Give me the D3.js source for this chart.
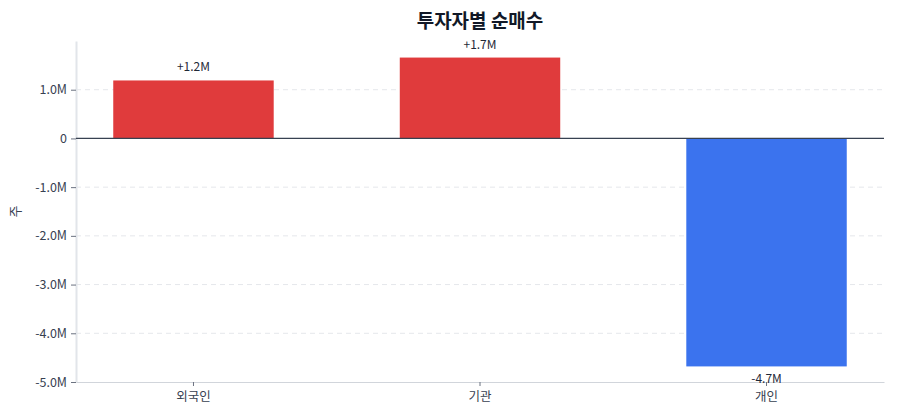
<!DOCTYPE html>
<html>
<head>
<meta charset="utf-8">
<script src="https://cdn.jsdelivr.net/npm/d3@7"></script>
<style>
  body { margin: 0; background: #fff; }
  svg text { font-family: "Noto Sans CJK KR", "Noto Sans", sans-serif; }
</style>
</head>
<body>
<svg id="chart" width="900" height="420"></svg>
<script>
const categories = ["외국인", "기관", "개인"];
const netBuy = [1190000, 1660000, -4680000];
const valueLabels = ["+1.2M", "+1.7M", "-4.7M"];
const yTicks = [1000000, 0, -1000000, -2000000, -3000000, -4000000, -5000000];
const yTickLabels = ["1.0M", "0", "-1.0M", "-2.0M", "-3.0M", "-4.0M", "-5.0M"];

const width = 900, height = 420;
const margin = {top: 41, right: 16, bottom: 38, left: 76};

const svg = d3.select("#chart");

const x = d3.scaleBand()
  .domain(categories)
  .range([margin.left, width - margin.right])
  .paddingInner(0.44)
  .paddingOuter(0.13);

const y = d3.scaleLinear()
  .domain([-5000000, 2000000])
  .range([height - margin.bottom, margin.top]);

// gridlines
svg.append("g")
  .selectAll("line").data(yTicks.filter(d => d !== 0 && d !== -5000000)).join("line")
  .attr("x1", margin.left).attr("x2", width - margin.right)
  .attr("y1", d => y(d)).attr("y2", d => y(d))
  .attr("stroke", "#e5e7eb")
  .attr("stroke-dasharray", "5,4");

// y axis
const yAxis = svg.append("g")
  .attr("transform", `translate(${margin.left},0)`)
  .call(d3.axisLeft(y).tickValues(yTicks).tickFormat((d, i) => yTickLabels[i]).tickSize(5).tickSizeOuter(0));
yAxis.select(".domain").attr("stroke", "#e2e5ea").attr("stroke-width", 2);
yAxis.selectAll(".tick line").attr("stroke", "#6b7280");
yAxis.selectAll(".tick text").attr("fill", "#374151").attr("font-size", 12.5).attr("dx", -1);

// x axis
const xAxis = svg.append("g")
  .attr("transform", `translate(0,${height - margin.bottom})`)
  .call(d3.axisBottom(x).tickSize(4).tickSizeOuter(0));
xAxis.select(".domain").attr("stroke", "#d1d5db");
xAxis.selectAll(".tick line").attr("stroke", "#6b7280");
xAxis.selectAll(".tick text").attr("fill", "#374151").attr("font-size", 12.5).attr("dy", "0.95em");

// bars
svg.append("g")
  .selectAll("rect").data(categories).join("rect")
  .attr("x", d => x(d))
  .attr("width", x.bandwidth())
  .attr("y", (d, i) => y(Math.max(0, netBuy[i])))
  .attr("height", (d, i) => Math.abs(y(netBuy[i]) - y(0)))
  .attr("fill", (d, i) => netBuy[i] >= 0 ? "#e03b3c" : "#3b73ee");

// zero line
svg.append("line")
  .attr("x1", margin.left).attr("x2", width - margin.right)
  .attr("y1", y(0)).attr("y2", y(0))
  .attr("stroke", "#374151").attr("stroke-width", 1.2);

// value labels
svg.append("g")
  .selectAll("text").data(categories).join("text")
  .attr("x", d => x(d) + x.bandwidth() / 2)
  .attr("y", (d, i) => netBuy[i] >= 0 ? y(netBuy[i]) - 9 : y(netBuy[i]) + 17)
  .attr("text-anchor", "middle")
  .attr("font-size", 12)
  .attr("fill", "#1f2937")
  .text((d, i) => valueLabels[i]);

// title
svg.append("text")
  .attr("x", width / 2 + 30).attr("y", 28)
  .attr("text-anchor", "middle")
  .attr("font-size", 19).attr("font-weight", "bold")
  .attr("fill", "#111827")
  .text("투자자별 순매수");

// y label
svg.append("text")
  .attr("transform", `translate(20,${y(-1500000)}) rotate(-90)`)
  .attr("text-anchor", "middle")
  .attr("font-size", 13)
  .attr("fill", "#374151")
  .text("주");
</script>
</body>
</html>
